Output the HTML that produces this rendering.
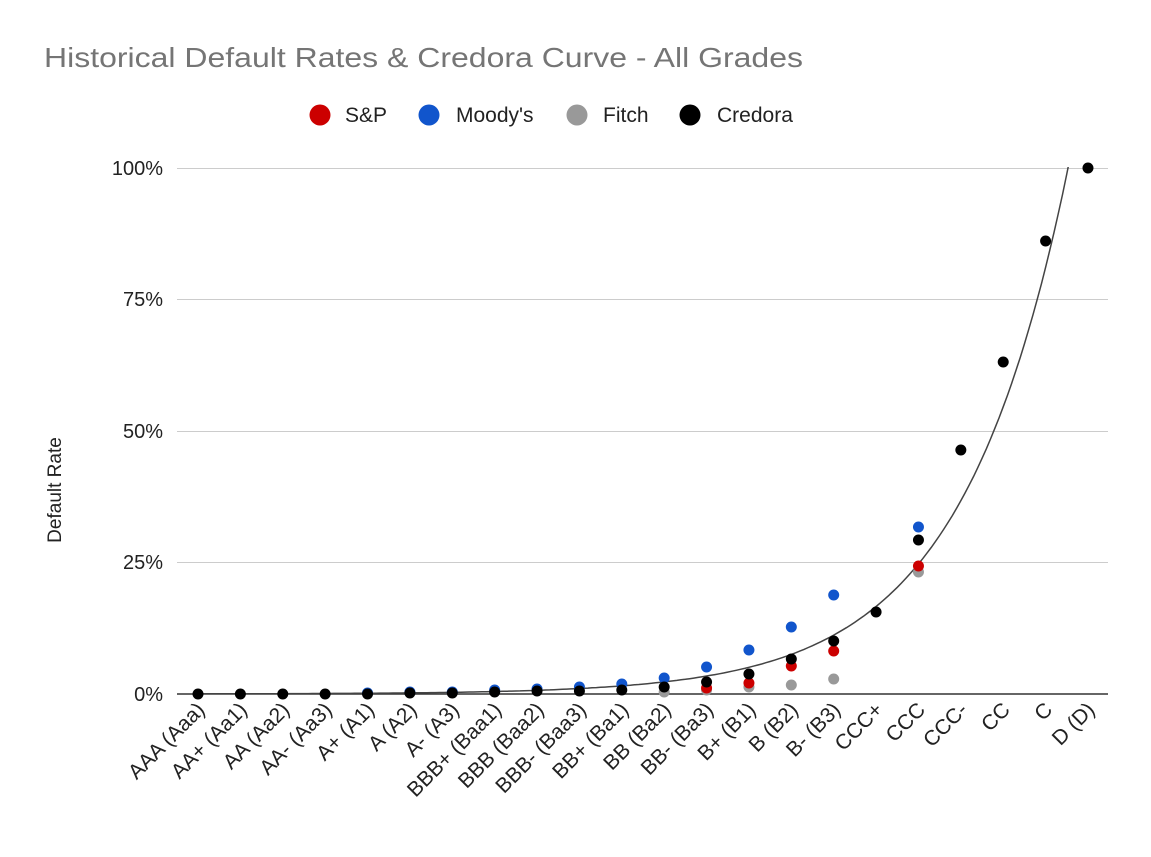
<!DOCTYPE html>
<html><head><meta charset="utf-8"><style>body{margin:0;background:#fff}svg{display:block;font-family:"Liberation Sans",Arial,sans-serif}</style></head>
<body>
<svg id="s" width="1151" height="857" viewBox="0 0 1151 857">
<rect width="1151" height="857" fill="#fff"/>
<text x="44" y="67" font-size="28" fill="#757575" textLength="759" lengthAdjust="spacingAndGlyphs">Historical Default Rates &amp; Credora Curve - All Grades</text>
<circle cx="320" cy="115" r="10.5" fill="#cc0000"/><text x="345" y="122" font-size="21" fill="#222">S&amp;P</text>
<circle cx="429" cy="115" r="10.5" fill="#1155cc"/><text x="456" y="122" font-size="21" fill="#222">Moody's</text>
<circle cx="577" cy="115" r="10.5" fill="#999999"/><text x="603" y="122" font-size="21" fill="#222">Fitch</text>
<circle cx="690" cy="115" r="10.5" fill="#000"/><text x="717" y="122" font-size="21" fill="#222">Credora</text>
<g stroke="#cccccc" stroke-width="1">
<line x1="177" x2="1108" y1="168.5" y2="168.5"/><line x1="177" x2="1108" y1="299.5" y2="299.5"/>
<line x1="177" x2="1108" y1="431.5" y2="431.5"/><line x1="177" x2="1108" y1="562.5" y2="562.5"/>
</g>
<line x1="177" x2="1108" y1="694" y2="694" stroke="#333" stroke-width="1.5"/>
<g font-size="20" fill="#222" text-anchor="end">
<text x="163" y="175">100%</text><text x="163" y="306">75%</text><text x="163" y="438">50%</text><text x="163" y="569">25%</text><text x="163" y="701">0%</text>
</g>
<text transform="translate(61,490) rotate(-90)" font-size="19" fill="#222" text-anchor="middle">Default Rate</text>
<clipPath id="c"><rect x="177" y="167" width="931" height="543"/></clipPath>
<path id="curve" fill="none" stroke="#444" stroke-width="1.5" clip-path="url(#c)"/>
<g id="pts"></g>
<g id="lbl" font-size="21" fill="#222" text-anchor="end"></g>
</svg>
<script>
var X=function(i){return 198+i*42.38};var Y=function(v){return 694-v*5.26};
var d="";for(var t=0;t<=21;t+=0.1){var v=11.2*Math.exp(0.396*(t-15));var y=Y(v);d+=(d?"L":"M")+X(t).toFixed(1)+","+y.toFixed(1);if(y<150)break;}
document.getElementById("curve").setAttribute("d",d);
var cats=["AAA (Aaa)","AA+ (Aa1)","AA (Aa2)","AA- (Aa3)","A+ (A1)","A (A2)","A- (A3)","BBB+ (Baa1)","BBB (Baa2)","BBB- (Baa3)","BB+ (Ba1)","BB (Ba2)","BB- (Ba3)","B+ (B1)","B (B2)","B- (B3)","CCC+","CCC","CCC-","CC","C","D (D)"];
var L=document.getElementById("lbl"),P=document.getElementById("pts");
cats.forEach(function(c,i){var x=X(i)+8;L.innerHTML+='<text transform="translate('+x+',711) rotate(-45)">'+c+'</text>';});
function dot(i,y,col){P.innerHTML+='<circle cx="'+X(i)+'" cy="'+y+'" r="5.5" fill="'+col+'"/>';}
var fitch={11:692,12:690,13:687,14:685,15:679,17:572};
var mood={4:693,5:692,6:692,7:690,8:689,9:687,10:684,11:678,12:667,13:650,14:627,15:595,17:527};
var sp={12:688,13:683,14:666,15:651,17:566};
var cr=[694,694,694,694,694,693,693,692,691,691,690,687,682,674,659,641,612,540,450,362,241,168];
for(var k in fitch)dot(+k,fitch[k],"#999999");
for(var k in sp)dot(+k,sp[k],"#cc0000");
for(var k in mood)dot(+k,mood[k],"#1155cc");
cr.forEach(function(y,i){dot(i,y,"#000");});
</script>
</body></html>
